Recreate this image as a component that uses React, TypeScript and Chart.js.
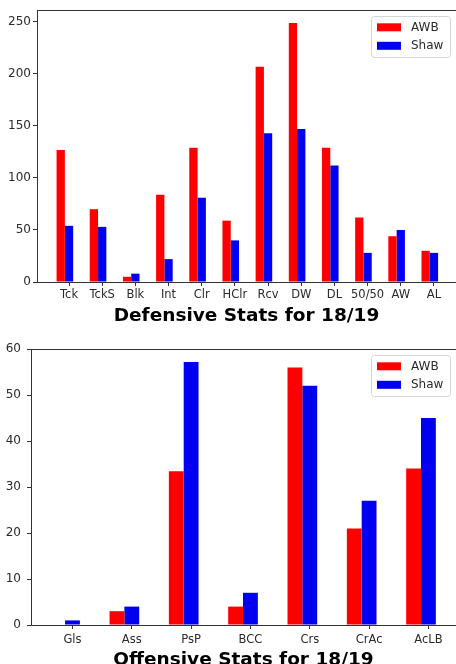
import { useEffect, useRef } from "react";
import { Chart, registerables } from "chart.js";

Chart.register(...registerables);

// Defensive stats 18/19
const defCategories = ["Tck", "TckS", "Blk", "Int", "Clr", "HClr", "Rcv", "DW", "DL", "50/50", "AW", "AL"];
const defAWB = [127, 70, 5, 84, 129, 59, 207, 249, 129, 62, 44, 30];
const defShaw = [54, 53, 8, 22, 81, 40, 143, 147, 112, 28, 50, 28];
const defYTicks = [0, 50, 100, 150, 200, 250];

// Offensive stats 18/19
const offCategories = ["Gls", "Ass", "PsP", "BCC", "Crs", "CrAc", "AcLB"];
const offAWB = [0, 3, 33.4, 4, 56, 21, 34];
const offShaw = [1, 4, 57.2, 7, 52, 27, 45];
const offYTicks = [0, 10, 20, 30, 40, 50, 60];

const seriesNames = ["AWB", "Shaw"];
const seriesColors = ["#ff0000", "#0000f0"];

const FONT = "'DejaVu Sans', sans-serif";
const TEXT = "#2a2a2a";
// each bar takes a quarter of a category slot; the tick sits under the second bar
const TICK_SHIFT = 0.125;

// top spine + matplotlib-style legend box in the upper right of the plot area
const frameLegend = {
  id: "frameLegend",
  afterDraw(chart: any) {
    const { ctx, chartArea: a } = chart;
    ctx.save();
    ctx.strokeStyle = "#333";
    ctx.lineWidth = 1;
    ctx.beginPath();
    ctx.moveTo(a.left, a.top + 0.5);
    ctx.lineTo(a.right, a.top + 0.5);
    ctx.stroke();

    const w = 79;
    const h = 41;
    const x = a.right - 85;
    const y = a.top + 6;
    ctx.fillStyle = "rgba(255,255,255,0.85)";
    ctx.strokeStyle = "#d4d4d4";
    ctx.beginPath();
    ctx.roundRect(x + 0.5, y + 0.5, w, h, 3);
    ctx.fill();
    ctx.stroke();

    chart.data.datasets.forEach((ds: any, i: number) => {
      const sy = y + 7.3 + i * 18.5;
      ctx.fillStyle = ds.backgroundColor;
      ctx.fillRect(x + 6, sy, 24, 8);
      ctx.fillStyle = TEXT;
      ctx.font = `12px ${FONT}`;
      ctx.textBaseline = "middle";
      ctx.textAlign = "left";
      ctx.fillText(ds.label, x + 40, sy + 4.5);
    });
    ctx.restore();
  },
};

type StatsChartProps = {
  categories: string[];
  awb: number[];
  shaw: number[];
  yTicks: number[];
  yMax: number;
  xMin: number;
  xMax: number;
  title: string;
  width: number;
  height: number;
  padTop: number;
  yAxisWidth: number;
  yLabelPad: number;
  xAxisHeight: number;
  xLabelPad: number;
};

function StatsChart(p: StatsChartProps) {
  const canvasRef = useRef<HTMLCanvasElement | null>(null);
  const chartRef = useRef<Chart | null>(null);

  useEffect(() => {
    if (!canvasRef.current) return;
    if (chartRef.current) chartRef.current.destroy();

    const values = [p.awb, p.shaw];

    chartRef.current = new Chart(canvasRef.current, {
      type: "bar",
      data: {
        datasets: values.map((vals, s) => ({
          label: seriesNames[s],
          data: p.categories.map((_, i) => ({ x: i, y: vals[i] })),
          backgroundColor: seriesColors[s],
          borderWidth: 0,
          categoryPercentage: 0.5,
          barPercentage: 1.0,
        })),
      },
      options: {
        responsive: false,
        animation: false,
        layout: { padding: { top: p.padTop, left: 0, right: 0, bottom: 0 } },
        plugins: {
          legend: { display: false },
          tooltip: { enabled: false },
        },
        scales: {
          x: {
            type: "linear",
            min: p.xMin,
            max: p.xMax,
            offset: false,
            afterBuildTicks: (scale: any) => {
              scale.ticks = p.categories.map((_, i) => ({ value: i + TICK_SHIFT }));
            },
            ticks: {
              autoSkip: false,
              maxRotation: 0,
              minRotation: 0,
              padding: p.xLabelPad,
              color: TEXT,
              font: { family: FONT, size: 11.5 },
              callback: (_v: any, idx: number) => p.categories[idx] ?? "",
            },
            grid: {
              display: true,
              offset: false,
              drawOnChartArea: false,
              drawTicks: true,
              tickLength: 4,
              color: "#333",
            },
            border: { display: true, color: "#333", width: 1 },
            title: {
              display: true,
              text: p.title,
              color: "#000",
              font: { family: FONT, size: 18.5, weight: "bold" },
              padding: { top: 4, bottom: 4 },
            },
            afterFit: (scale: any) => {
              scale.height = p.xAxisHeight;
            },
          },
          y: {
            min: 0,
            max: p.yMax,
            afterBuildTicks: (scale: any) => {
              scale.ticks = p.yTicks.map((v) => ({ value: v }));
            },
            ticks: {
              padding: p.yLabelPad,
              color: TEXT,
              font: { family: FONT, size: 12 },
            },
            grid: {
              display: true,
              drawOnChartArea: false,
              drawTicks: true,
              tickLength: 4,
              color: "#333",
            },
            border: { display: true, color: "#333", width: 1 },
            afterFit: (scale: any) => {
              scale.width = p.yAxisWidth;
            },
          },
        },
      } as any,
      plugins: [frameLegend],
    });

    return () => {
      if (chartRef.current) {
        chartRef.current.destroy();
        chartRef.current = null;
      }
    };
  }, []);

  return (
    <canvas
      ref={canvasRef}
      width={p.width}
      height={p.height}
      style={{ display: "block", width: p.width, height: p.height }}
    />
  );
}

export default function App() {
  return (
    <div
      style={{
        position: "fixed",
        left: 0,
        top: 0,
        width: 456,
        height: 664,
        overflow: "hidden",
        background: "#fff",
      }}
    >
      <div style={{ position: "absolute", left: 0, top: 0, width: 456, height: 330, overflow: "hidden" }}>
        <StatsChart
          categories={defCategories}
          awb={defAWB}
          shaw={defShaw}
          yTicks={defYTicks}
          yMax={261.5}
          xMin={-0.84}
          xMax={11.79}
          title="Defensive Stats for 18/19"
          width={456}
          height={331}
          padTop={10}
          yAxisWidth={37}
          yLabelPad={2}
          xAxisHeight={49}
          xLabelPad={2}
        />
      </div>
      <div style={{ position: "absolute", left: 0, top: 330, width: 456, height: 334, overflow: "hidden" }}>
        <StatsChart
          categories={offCategories}
          awb={offAWB}
          shaw={offShaw}
          yTicks={offYTicks}
          yMax={60}
          xMin={-0.574}
          xMax={6.59}
          title="Offensive Stats for 18/19"
          width={456}
          height={345}
          padTop={19}
          yAxisWidth={31}
          yLabelPad={6}
          xAxisHeight={50}
          xLabelPad={4}
        />
      </div>
    </div>
  );
}
